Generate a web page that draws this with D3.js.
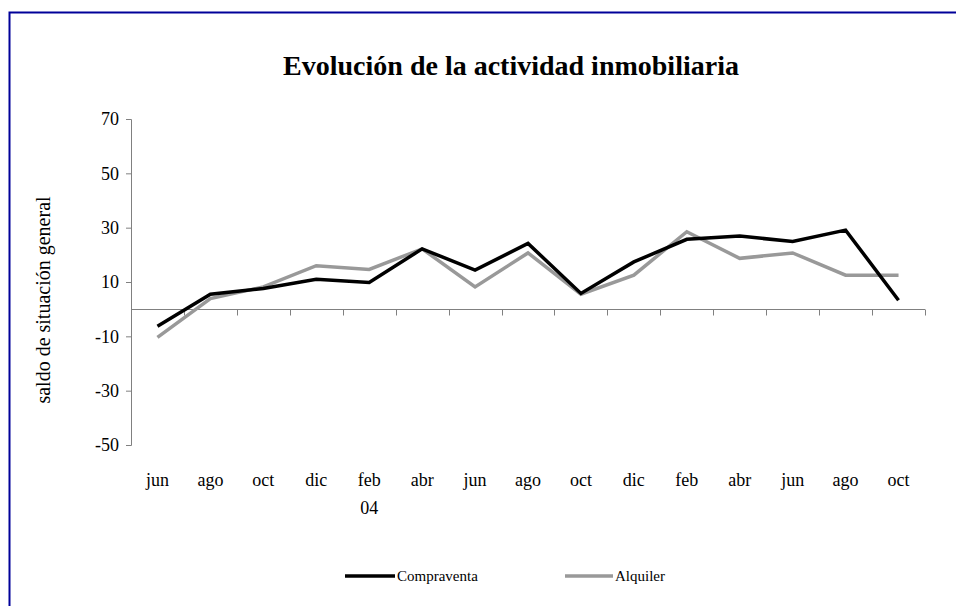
<!DOCTYPE html>
<html><head><meta charset="utf-8">
<script src="https://cdn.jsdelivr.net/npm/d3@7"></script>
<style>body{margin:0;background:#fff}svg{display:block}text{font-family:"Liberation Serif","Times New Roman",serif}</style>
</head><body><svg id="c" width="956" height="606"></svg>
<script>
const categories = ["jun","ago","oct","dic","feb","abr","jun","ago","oct","dic","feb","abr","jun","ago","oct"];
const subLabels = ["","","","","04","","","","","","","","","",""];
const compraventa = [-6.3,5.5,7.6,11,9.8,22.2,14.4,24.2,5.8,17.4,25.7,26.9,24.9,29.1,3.3];
const alquiler = [-10.4,3.9,8.2,16,14.6,22.2,8.2,20.7,5.5,12.5,28.5,18.7,20.7,12.5,12.5];
const yTicks = [-50,-30,-10,10,30,50,70];
const seriesNames = ["Compraventa","Alquiler"];
const seriesColors = ["#000000","#999999"];

const svg = d3.select("#c");
// frame
svg.append("path").attr("d","M9.5,606 V12.5 H956").attr("fill","none").attr("stroke","#000099").attr("stroke-width",2);

svg.append("text").attr("x",511).attr("y",75).attr("text-anchor","middle")
  .attr("font-size",28).attr("font-weight","bold").text("Evolución de la actividad inmobiliaria");

const x = d3.scaleBand().domain(d3.range(categories.length)).range([131,925]);
const y = d3.scaleLinear().domain([-50,70]).range([445,119]);

// y axis
const ya = svg.append("g").attr("transform","translate(131,0)")
  .call(d3.axisLeft(y).tickValues(yTicks).tickFormat(d=>String(d)).tickSize(5).tickPadding(7));
ya.select(".domain").attr("stroke","#808080").attr("d","M-5,445.5H0.5V119.5H-5");
ya.selectAll(".tick line").attr("stroke","#808080");
ya.selectAll("text").attr("font-size",18).attr("fill","#000").attr("font-family","Liberation Serif");

// x axis line at zero
const y0 = Math.round(y(0))+0.5;
svg.append("line").attr("x1",131).attr("x2",925).attr("y1",y0).attr("y2",y0).attr("stroke","#808080");
const tickX = d3.range(categories.length+1).map(i => i===categories.length ? 925 : x(i));
svg.selectAll(".xt").data(tickX).join("line").attr("class","xt")
  .attr("x1",d=>Math.round(d)+0.5).attr("x2",d=>Math.round(d)+0.5).attr("y1",y0).attr("y2",y0+6).attr("stroke","#808080");

// x labels
svg.selectAll(".xl").data(categories).join("text").attr("class","xl")
  .attr("x",(d,i)=>x(i)+x.bandwidth()/2).attr("y",486).attr("text-anchor","middle")
  .attr("font-size",18).text(d=>d);
svg.selectAll(".xs").data(subLabels).join("text").attr("class","xs")
  .attr("x",(d,i)=>x(i)+x.bandwidth()/2).attr("y",514).attr("text-anchor","middle")
  .attr("font-size",18).text(d=>d);

// y title
svg.append("text").attr("transform","translate(50,300) rotate(-90)").attr("text-anchor","middle")
  .attr("font-size",20).text("saldo de situación general");

// lines
const line = d3.line().x((d,i)=>x(i)+x.bandwidth()/2).y(d=>y(d));
[alquiler, compraventa].forEach((s,k)=>{
  const c = k===0 ? seriesColors[1] : seriesColors[0];
  svg.append("path").datum(s).attr("d",line).attr("fill","none").attr("stroke",c)
    .attr("stroke-width",3.5).attr("stroke-linejoin","miter");
});

// legend
const leg = [{x1:345,x2:395},{x1:565,x2:613}];
seriesNames.forEach((n,i)=>{
  svg.append("line").attr("x1",leg[i].x1).attr("x2",leg[i].x2).attr("y1",576).attr("y2",576)
    .attr("stroke",seriesColors[i]).attr("stroke-width",3.5);
  svg.append("text").attr("x",leg[i].x2+2).attr("y",581).attr("font-size",15).text(n);
});
</script></body></html>
